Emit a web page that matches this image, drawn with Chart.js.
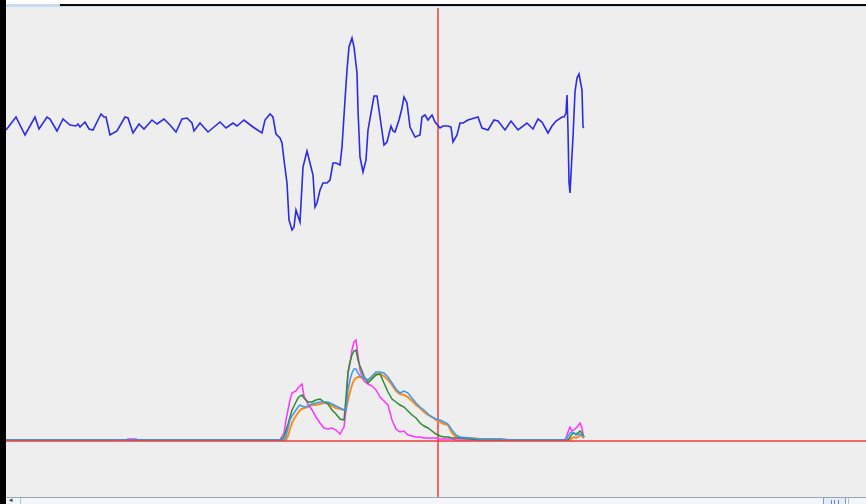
<!DOCTYPE html>
<html>
<head>
<meta charset="utf-8">
<script src="https://cdn.jsdelivr.net/npm/chart.js@4.4.1/dist/chart.umd.min.js"></script>
<style>
  html, body { margin:0; padding:0; width:866px; height:504px; overflow:hidden; background:#f0f0f0; font-family:"DejaVu Sans", sans-serif; }
  #topwhite { position:absolute; left:0; top:0; width:866px; height:4px; background:#ffffff; }
  #topblack { position:absolute; left:60px; top:4px; width:806px; height:2px; background:#0a0a0a; }
  #toptab { position:absolute; left:6px; top:4px; width:54px; height:3px; background:#c6dcf0; }
  #topblue { position:absolute; left:60px; top:6px; width:806px; height:1px; background:#c6dcf0; }
  #leftbar { position:absolute; left:0; top:0; width:6px; height:504px; background:#000000; }
  #plot { position:absolute; left:6px; top:7px; width:860px; height:490px; background:#eeeeee; }
  #wrap { position:absolute; left:6px; top:8px; width:860px; height:489px; }
  #bottomline { position:absolute; left:6px; top:497px; width:860px; height:1px; background:#9aa6b4; }
  #scroll { position:absolute; left:6px; top:498px; width:860px; height:6px; background:#f2f6fb; }
  #sbtnline { position:absolute; left:20px; top:498px; width:1px; height:6px; background:#a8c0dc; }
  #arrow { position:absolute; left:9px; top:497px; font-size:7px; line-height:7px; color:#333; }
  #thumb { position:absolute; left:823px; top:498px; width:21px; height:6px; border-left:1px solid #7f9cc6; border-right:1px solid #7f9cc6; background:#e4eefa; }
  #grip { position:absolute; left:831px; top:500px; width:6px; height:4px; border-left:1px solid #6c86b0; border-right:1px solid #6c86b0; }
  #grip2 { position:absolute; left:834px; top:500px; width:1px; height:4px; background:#6c86b0; }
  #rightline { position:absolute; left:848px; top:498px; width:1px; height:6px; background:#a8c0dc; }
</style>
</head>
<body>
<div id="topwhite"></div>
<div id="toptab"></div>
<div id="topblack"></div>
<div id="topblue"></div>
<div id="plot"></div>
<div id="wrap"><canvas id="c" width="860" height="489"></canvas></div>
<div id="bottomline"></div>
<div id="scroll"></div>
<div id="sbtnline"></div>
<div id="arrow">◂</div>
<div id="thumb"></div>
<div id="grip"></div>
<div id="grip2"></div>
<div id="rightline"></div>
<div id="leftbar"></div>
<script>
// Waveform (sample index, amplitude)
const waveT = [0,10,19,29,33,41,44,51,57,64,70,72,74,79,83,87,95,98,100,104,111,119,122,127,133,138,146,151,158,164,170,176,181,186,188,194,202,214,218,220,227,231,238,247,256,259,264,267,270,274,276,278,281,283,286,288,290,291,294,297,301,304,307,309,311,314,317,321,324,327,330,334,336,339,341,343,346,348,351,352,354,357,360,362,365,368,371,374,378,381,385,387,389,393,396,398,401,404,409,414,416,419,422,426,429,434,437,442,445,447,451,454,457,462,472,476,482,488,492,499,505,512,521,527,532,536,542,546,550,556,558,560,561,562,563,564,566,567,569,571,573,576,577,578];
const waveV = [-5,8,-10,8,-4,8,6,-6,6,0,-1,1,-2,3,-4,-5,11,8,8,-10,-6,8,7,-8,1,-4,5,1,6,0,-7,6,7,2,-6,2,-7,3,-1,-3,2,-1,5,-2,-8,5,11,8,-9,-13,-18,-35,-58,-95,-105,-102,-85,-88,-97,-42,-26,-38,-50,-82,-78,-65,-58,-58,-55,-38,-38,-40,-22,25,55,78,87,78,52,15,-32,-47,-35,-5,12,29,29,8,-20,-17,-1,-6,-7,5,17,28,22,-2,-12,-10,8,10,5,10,3,-3,-1,-1,-2,-17,-10,2,2,5,8,-3,-5,5,4,-5,4,-5,2,-4,6,3,-8,-1,4,8,8,12,30,-5,-57,-68,-30,-12,33,47,51,35,-2,-3];

// Energy curves on a shared sample grid
const energyT = [0,120,122,130,132,270,274,278,280,282,284,286,288,290,292,294,296,298,302,306,310,314,318,322,326,330,334,338,340,342,344,346,348,350,352,354,358,362,366,370,374,378,382,386,390,394,398,402,406,410,414,418,422,426,430,434,438,442,446,450,454,464,474,484,494,504,514,524,554,558,560,562,564,566,568,570,572,574,576,577,578];
const magentaE = [0,0,1,1,0,0,0,7,20,30,40,47,48,49,52,54,56,44,36,30,23,17,12,11,12,10,6,13,30,67,77,90,98,100,85,70,59,56,54,50,43,39,35,20,11,8,9,5,4,3,3,2,2,2,2,1,1,1,1,0,0,0,0,0,0,0,0,0,0,0,2,8,13,9,10,12,14,17,12,5,3];
const greenE = [0,0,0,0,0,0,0,3,10,16,23,30,34,38,42,44,45,42,38,38,40,41,38,36,30,26,21,20,43,68,78,85,89,90,80,74,64,57,61,65,66,57,48,41,38,35,33,29,25,22,17,14,12,9,6,4,3,3,2,2,2,1,0,0,0,0,0,0,0,0,0,0,3,6,7,6,7,9,7,5,3];
const blueE = [0,0,0,0,0,0,0,0,4,12,20,24,27,30,33,35,34,33,34,36,37,38,38,38,36,34,32,30,30,50,60,67,71,71,67,64,62,60,64,68,68,67,63,57,51,47,49,47,42,37,33,30,26,23,21,20,18,16,10,5,3,2,1,1,1,0,0,0,0,0,0,4,7,8,7,5,6,6,5,4,3];
const orangeE = [0,0,0,0,0,0,0,0,0,4,11,17,21,24,27,30,31,32,33,35,35,36,37,37,34,32,31,30,30,40,48,55,60,62,63,63,61,60,62,66,66,64,60,55,49,46,45,43,39,35,32,28,25,23,20,18,16,15,7,3,2,2,1,1,1,0,0,0,0,0,0,0,0,2,3,2,3,5,4,3,2];

// Cursor positions
const cursorT = 432;
const cursorE = -1;

const pts = (xs, ys) => xs.map((x, i) => ({x, y: ys[i]}));

const lineDs = (label, data, color, width, axis) => ({
  label, data: data, borderColor: color, borderWidth: width, pointRadius: 0,
  tension: 0, fill: false, yAxisID: axis, parsing: false
});

new Chart(document.getElementById('c'), {
  type: 'line',
  data: {
    datasets: [
      lineDs('cursorH', [{x:0,y:cursorE},{x:860,y:cursorE}], '#f03c3c', 1.5, 'yE'),
      lineDs('blue', pts(energyT, blueE), '#3a9af0', 1.5, 'yE'),
      lineDs('green', pts(energyT, greenE), '#2e8b2e', 1.5, 'yE'),
      lineDs('magenta', pts(energyT, magentaE), '#ff33ff', 1.5, 'yE'),
      lineDs('orange', pts(energyT, orangeE), '#ff8a1c', 2, 'yE'),
      lineDs('wave', pts(waveT, waveV), '#2a2ae8', 1.6, 'yW'),
      lineDs('cursorV', [{x:cursorT,y:-57},{x:cursorT,y:432}], '#f03c3c', 1.5, 'yE')
    ]
  },
  options: {
    responsive: false,
    animation: false,
    events: [],
    layout: { padding: 0 },
    plugins: { legend: { display: false }, tooltip: { enabled: false } },
    scales: {
      x: { type: 'linear', min: 0, max: 860, display: false },
      yW: { type: 'linear', min: -372, max: 117, display: false },
      yE: { type: 'linear', min: -57, max: 432, display: false }
    }
  }
});
</script>
</body>
</html>
